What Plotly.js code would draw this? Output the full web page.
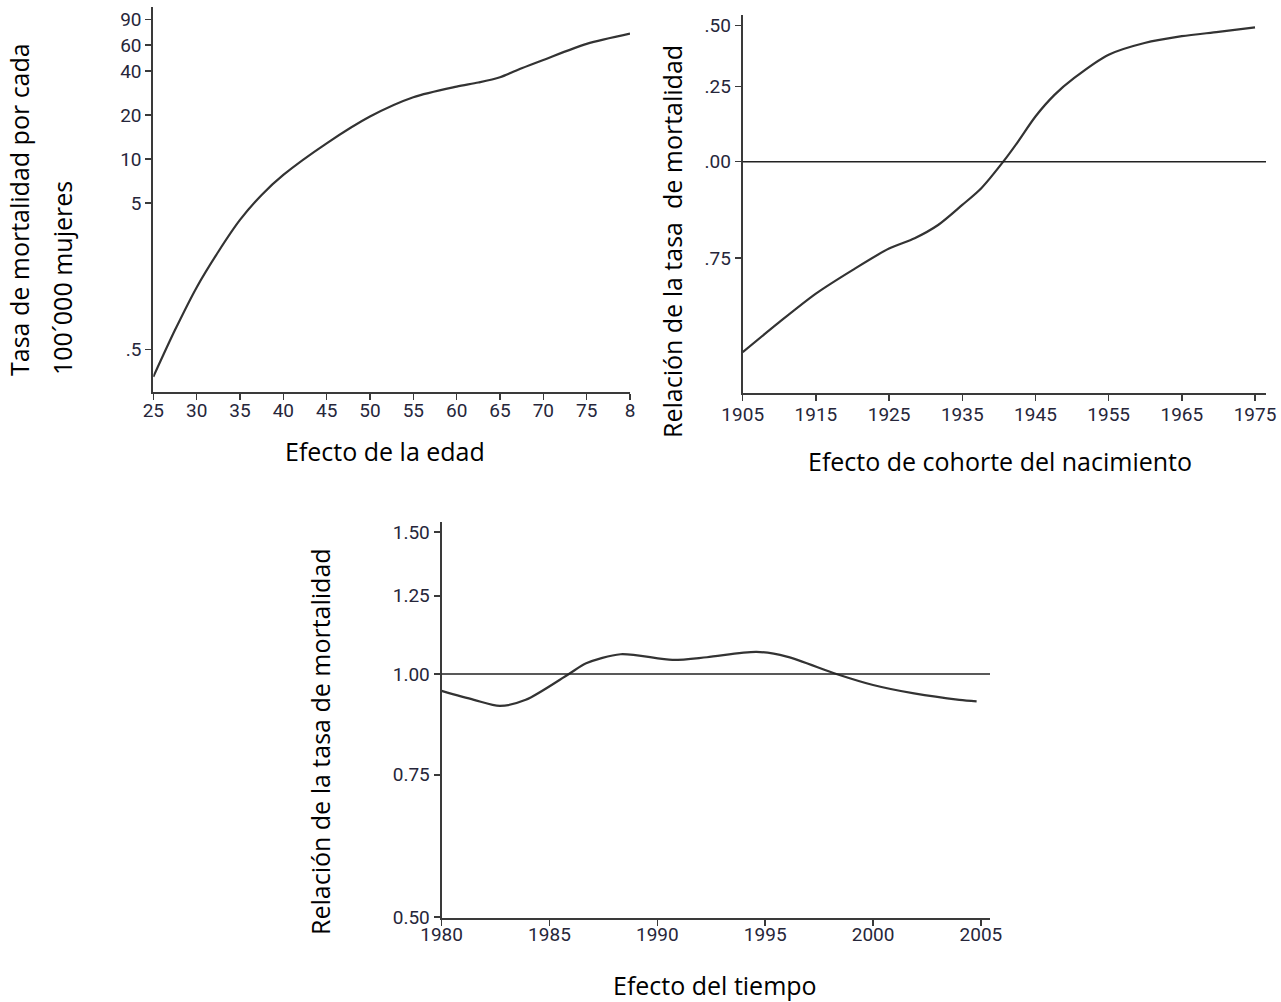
<!DOCTYPE html>
<html>
<head>
<meta charset="utf-8">
<script src="https://cdn.plot.ly/plotly-3.0.1.min.js"></script>
<style>html,body{margin:0;padding:0;background:#fff;}#chart{width:1281px;height:1002px;}</style>
</head>
<body>
<div id="chart"></div>
<script>
// ---- Data ----
// Panel 1: age effect (rate per 100,000 women, log scale)
const ageX = [25, 27.5, 30, 32.5, 35, 37.5, 40, 45, 50, 55, 60, 62.5, 65, 67.5, 70, 75, 80];
const ageRate = [0.326, 0.68, 1.33, 2.33, 3.84, 5.69, 7.79, 12.8, 19.5, 26.4, 31.2, 33.3, 36.2, 41.7, 47.5, 61.1, 71.8];
const ageXTicks = [25, 30, 35, 40, 45, 50, 55, 60, 65, 70, 75, 80];
const ageXTickText = ["25", "30", "35", "40", "45", "50", "55", "60", "65", "70", "75", "8"];
const ageYTicks = [90, 60, 40, 20, 10, 5, 0.5];
const ageYTickText = ["90", "60", "40", "20", "10", "5", ".5"];

// Panel 2: birth cohort effect (rate ratio, log scale)
const cohortX = [1905, 1910, 1915, 1920, 1925, 1928.5, 1931.7, 1935, 1937.6, 1940.6, 1942.6, 1945, 1947.6, 1950.3, 1955, 1959.9, 1965, 1970, 1975];
const cohortRR = [0.567, 0.620, 0.675, 0.724, 0.772, 0.796, 0.828, 0.879, 0.924, 1.0, 1.061, 1.144, 1.22, 1.283, 1.375, 1.424, 1.453, 1.472, 1.492];
const cohortXTicks = [1905, 1915, 1925, 1935, 1945, 1955, 1965, 1975];
const cohortYTicks = [1.5, 1.25, 1.0, 0.75, 0.5];
const cohortYTickText = [".50", ".25", ".00", ".75", ".50"];

// Panel 3: period effect (rate ratio, log scale)
const periodX = [1980, 1981.5, 1982.7, 1983.9, 1985.9, 1986.7, 1988.3, 1990.7, 1992.3, 1994.6, 1996, 1998.3, 2000, 2001.9, 2004, 2004.8];
const periodRR = [0.953, 0.929, 0.913, 0.929, 1.0, 1.031, 1.058, 1.041, 1.049, 1.065, 1.051, 1.0, 0.969, 0.946, 0.929, 0.925];
const periodXTicks = [1980, 1985, 1990, 1995, 2000, 2005];
const periodYTicks = [1.5, 1.25, 1.0, 0.75, 0.5];
const periodYTickText = ["1.50", "1.25", "1.00", "0.75", "0.50"];

const refLevel = 1.0;

// ---- Texts ----
const t1y1 = "Tasa de mortalidad por cada";
const t1y2 = "100´000 mujeres";
const t1x = "Efecto de la edad";
const t2y = "Relación de la tasa \u00a0de mortalidad";
const t2x = "Efecto de cohorte del nacimiento";
const t3y = "Relación de la tasa de mortalidad";
const t3x = "Efecto del tiempo";

// ---- Layout helpers (pixel -> paper) ----
const W = 1281, H = 1002;
const px = v => v / W;
const py = v => 1 - v / H;
const L10 = Math.log10;

const lineCol = '#3a3a3a';
const tickFont = {family: 'Roboto, sans-serif', size: 19, color: '#26263a'};
const titleFont = {family: '"Open Sans", "Noto Sans", sans-serif', size: 25, color: '#000'};

function axisBase() {
  return {
    showline: true, linecolor: lineCol, linewidth: 2,
    ticks: 'outside', ticklen: 6, tickwidth: 1.5, tickcolor: lineCol,
    showgrid: false, zeroline: false, tickfont: tickFont, fixedrange: true
  };
}

const traces = [
  {x: ageX, y: ageRate, xaxis: 'x', yaxis: 'y', type: 'scatter', mode: 'lines',
   line: {color: '#333', width: 2.2, shape: 'spline', smoothing: 0.8}, hoverinfo: 'skip'},
  {x: cohortX, y: cohortRR, xaxis: 'x2', yaxis: 'y2', type: 'scatter', mode: 'lines',
   line: {color: '#333', width: 2.2, shape: 'spline', smoothing: 0.8}, hoverinfo: 'skip'},
  {x: periodX, y: periodRR, xaxis: 'x3', yaxis: 'y3', type: 'scatter', mode: 'lines',
   line: {color: '#333', width: 2.2, shape: 'spline', smoothing: 0.8}, hoverinfo: 'skip'}
];

const layout = {
  width: W, height: H,
  margin: {l: 0, r: 0, t: 0, b: 0},
  paper_bgcolor: '#fff', plot_bgcolor: 'rgba(0,0,0,0)',
  showlegend: false,
  xaxis: Object.assign(axisBase(), {domain: [px(153.3), px(630)], range: [25, 80], anchor: 'y',
    tickvals: ageXTicks, ticktext: ageXTickText, ticklabelstandoff: -6}),
  yaxis: Object.assign(axisBase(), {domain: [py(391.7), py(6.7)], type: 'log', range: [-0.588, 2.040], anchor: 'x',
    tickvals: ageYTicks, ticktext: ageYTickText}),
  xaxis2: Object.assign(axisBase(), {domain: [px(742.7), px(1266)], range: [1905, 1976.5], anchor: 'y2',
    tickvals: cohortXTicks, ticklabelstandoff: -3}),
  yaxis2: Object.assign(axisBase(), {domain: [py(393.3), py(15)], type: 'log', range: [L10(0.5016), 0.1897], anchor: 'x2',
    tickvals: cohortYTicks, ticktext: cohortYTickText}),
  xaxis3: Object.assign(axisBase(), {domain: [px(441.6), px(990)], range: [1980, 2005.42], anchor: 'y3',
    tickvals: periodXTicks, ticklabelstandoff: -8}),
  yaxis3: Object.assign(axisBase(), {domain: [py(918.3), py(521.7)], type: 'log', range: [-0.3027, 0.1887], anchor: 'x3',
    tickvals: periodYTicks, ticktext: periodYTickText}),
  shapes: [
    {type: 'line', xref: 'x2 domain', yref: 'y2', x0: 0, x1: 1, y0: refLevel, y1: refLevel,
     line: {color: '#222', width: 1.5}},
    {type: 'line', xref: 'x3 domain', yref: 'y3', x0: 0, x1: 1, y0: refLevel, y1: refLevel,
     line: {color: '#222', width: 1.5}}
  ],
  annotations: [
    {text: t1y1, xref: 'paper', yref: 'paper', x: px(19), y: py(210), xanchor: 'center', yanchor: 'middle',
     textangle: -90, showarrow: false, font: titleFont},
    {text: t1y2, xref: 'paper', yref: 'paper', x: px(62), y: py(278), xanchor: 'center', yanchor: 'middle',
     textangle: -90, showarrow: false, font: titleFont},
    {text: t1x, xref: 'paper', yref: 'paper', x: px(385), y: py(451), xanchor: 'center', yanchor: 'middle',
     showarrow: false, font: titleFont},
    {text: t2y, xref: 'paper', yref: 'paper', x: px(672), y: py(242), xanchor: 'center', yanchor: 'middle',
     textangle: -90, showarrow: false, font: titleFont},
    {text: t2x, xref: 'paper', yref: 'paper', x: px(1000), y: py(461), xanchor: 'center', yanchor: 'middle',
     showarrow: false, font: titleFont},
    {text: t3y, xref: 'paper', yref: 'paper', x: px(320), y: py(742), xanchor: 'center', yanchor: 'middle',
     textangle: -90, showarrow: false, font: titleFont},
    {text: t3x, xref: 'paper', yref: 'paper', x: px(715), y: py(985), xanchor: 'center', yanchor: 'middle',
     showarrow: false, font: titleFont}
  ]
};

Plotly.newPlot('chart', traces, layout, {staticPlot: true, displayModeBar: false});
</script>
</body>
</html>
